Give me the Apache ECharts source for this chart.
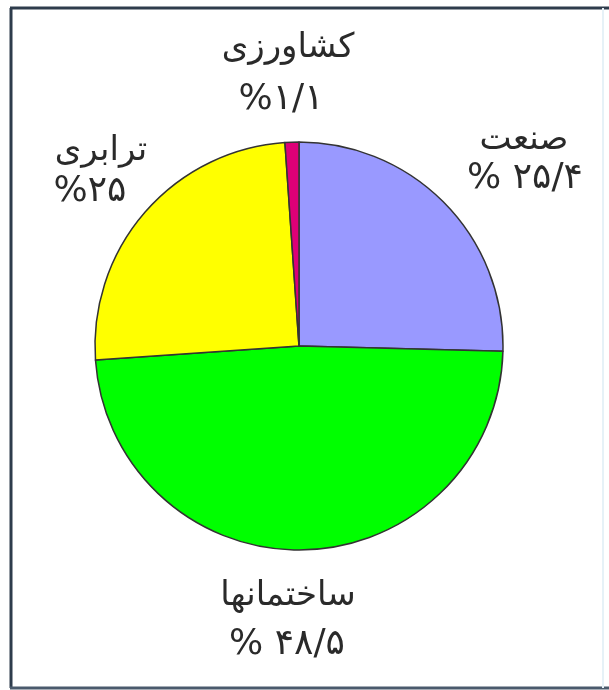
<!DOCTYPE html>
<html>
<head>
<meta charset="utf-8">
<script src="https://cdn.jsdelivr.net/npm/echarts@6/dist/echarts.min.js"></script>
<style>
html,body{margin:0;padding:0;background:#fff;}
#c{width:609px;height:690px;}
</style>
</head>
<body>
<div id="c"></div>
<script>
var categories = ['صنعت', 'ساختمانها', 'ترابری', 'کشاورزی'];
var values = [25.4, 48.5, 25, 1.1];
var valueLabels = ['% ۲۵/۴', '% ۴۸/۵', '%۲۵', '%۱/۱'];
var colors = ['#9999ff', '#00ff00', '#ffff00', '#dd0077'];

var labelPos = [
  {name: [524, 140], val: [525, 179]},
  {name: [288, 596], val: [287, 645]},
  {name: [101, 151], val: [90, 192]},
  {name: [288, 48], val: [281, 100]}
];

var chart = echarts.init(document.getElementById('c'), null, {renderer: 'canvas'});
var graphics = [];
graphics.push({type: 'rect', shape: {x: 0, y: 0, width: 609, height: 690}, style: {fill: '#ffffff'}, z: -10, silent: true});
graphics.push({type: 'line', shape: {x1: 11, y1: 8, x2: 11, y2: 688}, style: {stroke: '#2e3c4c', lineWidth: 3}, silent: true});
graphics.push({type: 'line', shape: {x1: 10, y1: 8, x2: 609, y2: 8}, style: {stroke: '#2e3c4c', lineWidth: 3}, silent: true});
graphics.push({type: 'line', shape: {x1: 10, y1: 688, x2: 609, y2: 688}, style: {stroke: '#4a5a6c', lineWidth: 3}, silent: true});
graphics.push({type: 'line', shape: {x1: 603, y1: 8, x2: 603, y2: 688}, style: {stroke: '#e6f1f7', lineWidth: 2}, silent: true});
for (var i = 0; i < categories.length; i++) {
  graphics.push({type: 'text', x: labelPos[i].name[0], y: labelPos[i].name[1], style: {text: categories[i], font: '34px "DejaVu Sans"', fill: '#2a2a2a', align: 'center', verticalAlign: 'middle'}, silent: true});
  graphics.push({type: 'text', x: labelPos[i].val[0], y: labelPos[i].val[1], style: {text: valueLabels[i], font: '36px "DejaVu Sans"', fill: '#2a2a2a', align: 'center', verticalAlign: 'middle'}, silent: true});
}

chart.setOption({
  animation: false,
  backgroundColor: '#ffffff',
  graphic: graphics,
  series: [{
    type: 'pie',
    center: [299, 346],
    radius: 204,
    startAngle: 90,
    clockwise: true,
    label: {show: false},
    labelLine: {show: false},
    emphasis: {disabled: true},
    itemStyle: {borderColor: '#333', borderWidth: 1.5},
    data: categories.map(function (c, i) {
      return {name: c, value: values[i], itemStyle: {color: colors[i]}};
    })
  }]
});
</script>
</body>
</html>
